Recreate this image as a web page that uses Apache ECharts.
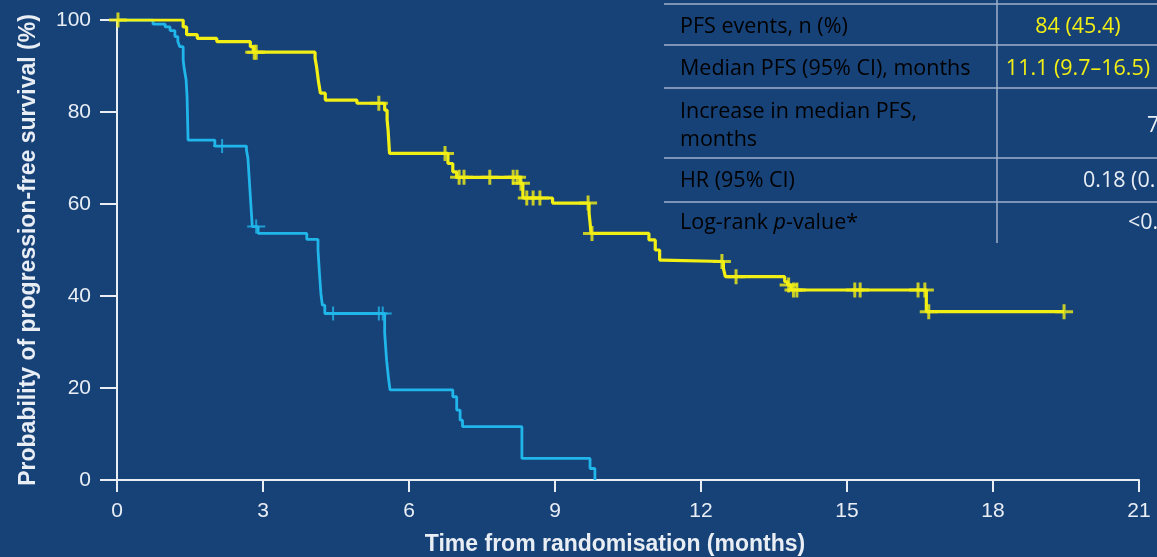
<!DOCTYPE html>
<html>
<head>
<meta charset="utf-8">
<title>Progression-free survival</title>
<script src="https://cdn.jsdelivr.net/npm/echarts@6/dist/echarts.min.js"></script>
<style>
  html, body { margin: 0; padding: 0; background: #174278; }
  #chart { width: 1157px; height: 557px; }
</style>
</head>
<body>
<div id="chart"></div>
<script>
// Kaplan–Meier estimates: event times (months) and PFS probability (%) after each step
const armATimes  = [0, 1.36, 1.43, 1.65, 2.05, 2.74, 2.80, 4.07, 4.10, 4.14, 4.18, 4.28, 4.93,
                    5.50, 5.55, 5.57, 5.60, 6.80, 6.90, 6.98, 8.28, 8.34, 8.95, 9.70, 9.72, 9.74,
                    10.93, 11.06, 11.15, 11.20, 12.46, 12.50, 13.72, 13.78, 13.85, 16.63, 19.46];
const armAValues = [100, 98.5, 96.8, 96.0, 95.3, 94.2, 93.0, 91.7, 89.9, 86.6, 84.1, 82.6, 81.9,
                    80.4, 78.3, 76.1, 71.0, 68.8, 67.0, 65.8, 64.5, 61.3, 60.2, 58.0, 56.0, 53.6,
                    52.2, 50.0, 47.8, 47.5, 46.0, 44.2, 43.1, 42.4, 41.3, 36.6, 36.6];
const armACensored = [0.02, 2.82, 2.86, 5.38, 6.74, 7.03, 7.13, 7.66, 8.14, 8.22, 8.30, 8.42, 8.55,
                      8.69, 9.68, 9.76, 12.43, 12.72, 13.80, 13.90, 13.97, 15.16, 15.27, 16.46,
                      16.60, 16.68, 19.46];

const armBTimes  = [0, 0.74, 0.99, 1.09, 1.19, 1.25, 1.29, 1.36, 1.38, 1.42, 1.44, 1.46, 2.01,
                    2.66, 2.69, 2.72, 2.75, 2.78, 2.90, 3.90, 4.13, 4.16, 4.19, 4.22, 4.27, 5.50,
                    5.54, 5.58, 5.61, 6.90, 6.98, 7.05, 7.10, 8.32, 9.72, 9.82];
const armBValues = [100, 99.1, 98.5, 97.7, 96.4, 95.3, 94.2, 91.3, 89.5, 87.0, 83.3, 73.9, 72.6,
                    71.7, 70.0, 65.0, 60.0, 55.1, 53.6, 52.3, 50.0, 45.0, 40.5, 38.0, 36.2, 32.0,
                    26.0, 22.0, 19.6, 18.1, 15.2, 13.0, 11.6, 4.7, 2.5, 0];
const armBCensored = [2.16, 2.86, 4.44, 5.38, 5.46];

// Axis ticks
const xTickStep = 3;
const xMax = 21;
const yTickStep = 20;
const yMax = 100;

// Summary table
const tableLabels = [
  '{n|PFS events, n (%)}',
  '{n|Median PFS (95% CI), months}',
  '{n|Increase in median PFS,}\n{n|months}',
  '{n|HR (95% CI)}',
  '{n|Log-rank }{i|p}{n|-value*}'
];
const armAColumn = ['84 (45.4)', '11.1 (9.7–16.5)'];
const sharedColumn = ['7', '0.18 (0.', '<0.'];

const YELLOW = '#f2ef14';
const CYAN = '#20b6ea';
const INK = '#e9eef5';

function valueAt(times, values, t) {
  let v = values[0];
  for (let i = 0; i < times.length; i++) {
    if (times[i] <= t) v = values[i]; else break;
  }
  return v;
}

const pairs = (ts, vs) => ts.map((t, i) => [t, vs[i]]);
const censorPoints = (cs, ts, vs) => cs.map(t => [t, valueAt(ts, vs, t)]);

// plus-shaped censor marks
const plusThick = 'path://M7.5,0 L10.5,0 L10.5,6 L18,6 L18,9 L10.5,9 L10.5,15 L7.5,15 L7.5,9 L0,9 L0,6 L7.5,6 Z';
const plusThin  = 'path://M8,0 L10,0 L10,6 L18,6 L18,8 L10,8 L10,14 L8,14 L8,8 L0,8 L0,6 L8,6 Z';

const chart = echarts.init(document.getElementById('chart'), null, { renderer: 'canvas' });

// table geometry
const rowLines = [4, 45, 88, 158, 202];
const rowCentres = [27, 69, 126, 181, 223];
const tableLeft = 664, tableRight = 1157, colSplit = 997;
const TABLE_SIZE = 21.5;
const graphics = [];
rowLines.forEach(y => graphics.push({
  type: 'line', shape: { x1: tableLeft, y1: y, x2: tableRight, y2: y },
  style: { stroke: '#9fb2cc', lineWidth: 1.5 }, silent: true
}));
graphics.push({
  type: 'line', shape: { x1: colSplit, y1: 0, x2: colSplit, y2: 243 },
  style: { stroke: '#9fb2cc', lineWidth: 1.5 }, silent: true
});
const tableFont = { fontFamily: 'Open Sans', fontSize: TABLE_SIZE, color: INK };
tableLabels.forEach((txt, i) => graphics.push({
  type: 'text', x: 680, y: rowCentres[i],
  style: {
    text: txt, align: 'left', verticalAlign: 'middle', lineHeight: 28,
    rich: {
      n: Object.assign({ lineHeight: 28 }, tableFont),
      i: Object.assign({ lineHeight: 28, fontStyle: 'italic' }, tableFont)
    }
  }, silent: true
}));
armAColumn.forEach((txt, i) => graphics.push({
  type: 'text', x: 1078, y: rowCentres[i],
  style: { text: txt, align: 'center', verticalAlign: 'middle',
           fontFamily: 'Open Sans', fontSize: TABLE_SIZE, fill: YELLOW }, silent: true
}));
const sharedX = [1147, 1083, 1128];
sharedColumn.forEach((txt, i) => graphics.push({
  type: 'text', x: sharedX[i], y: rowCentres[i + 2],
  style: { text: txt, align: 'left', verticalAlign: 'middle',
           fontFamily: 'Open Sans', fontSize: TABLE_SIZE, fill: INK }, silent: true
}));

const axisStyle = { lineStyle: { color: INK, width: 2 } };

chart.setOption({
  backgroundColor: '#174278',
  animation: false,
  grid: { left: 117, right: 18, top: 20, bottom: 77, containLabel: false, outerBoundsMode: 'none' },
  xAxis: {
    type: 'value', min: 0, max: xMax, interval: xTickStep,
    name: 'Time from randomisation (months)',
    nameLocation: 'middle', nameGap: 53,
    nameTextStyle: { color: INK, fontFamily: 'Liberation Sans', fontWeight: 'bold', fontSize: 23, padding: [0, 26, 0, 0] },
    axisLine: axisStyle,
    axisTick: { show: true, length: 12, lineStyle: { color: INK, width: 2 } },
    axisLabel: { color: INK, fontFamily: 'Liberation Sans', fontSize: 21, margin: 21 },
    splitLine: { show: false }
  },
  yAxis: {
    type: 'value', min: 0, max: yMax, interval: yTickStep,
    name: 'Probability of progression-free survival (%)',
    nameLocation: 'middle', nameGap: 77, nameRotate: 90,
    nameTextStyle: { color: INK, fontFamily: 'Liberation Sans', fontWeight: 'bold', fontSize: 23 },
    axisLine: Object.assign({ show: true }, axisStyle),
    axisTick: { show: true, length: 17, lineStyle: { color: INK, width: 2 } },
    axisLabel: { color: INK, fontFamily: 'Liberation Sans', fontSize: 21, margin: 26 },
    splitLine: { show: false }
  },
  series: [
    {
      name: 'Arm B', type: 'line', step: 'end', showSymbol: false,
      data: pairs(armBTimes, armBValues),
      lineStyle: { color: CYAN, width: 2.8 }, z: 2
    },
    {
      name: 'Arm B censored', type: 'scatter', symbol: plusThin, symbolSize: [18, 14],
      data: censorPoints(armBCensored, armBTimes, armBValues),
      itemStyle: { color: CYAN }, z: 3
    },
    {
      name: 'Arm A', type: 'line', step: 'end', showSymbol: false,
      data: pairs(armATimes, armAValues),
      lineStyle: { color: YELLOW, width: 3.2 }, z: 4
    },
    {
      name: 'Arm A censored', type: 'scatter', symbol: plusThick, symbolSize: [18, 15],
      data: censorPoints(armACensored, armATimes, armAValues),
      itemStyle: { color: YELLOW }, z: 5
    }
  ],
  graphic: graphics
});
</script>
</body>
</html>
